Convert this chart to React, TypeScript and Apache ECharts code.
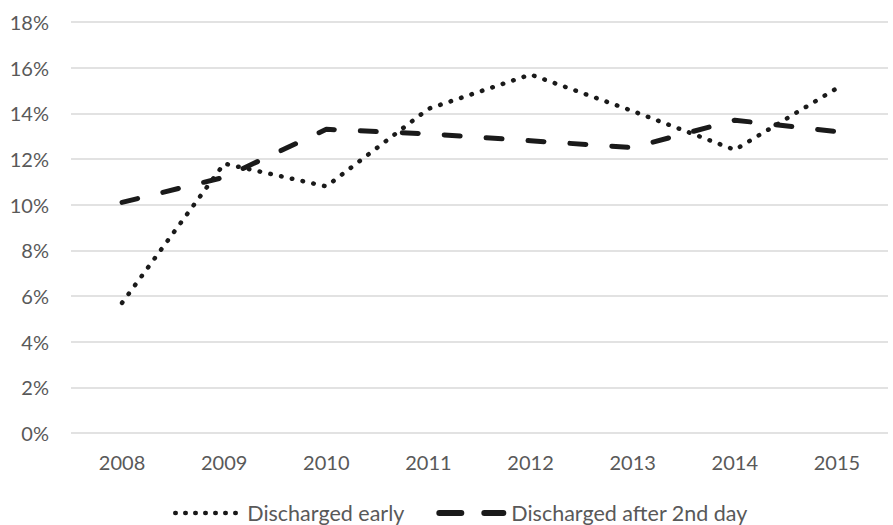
import React, { useEffect, useRef } from "react";
import * as echarts from "echarts";

const years = ["2008", "2009", "2010", "2011", "2012", "2013", "2014", "2015"];
const dischargedEarly = [5.7, 11.8, 10.8, 14.2, 15.7, 14.1, 12.4, 15.1];
const dischargedAfter2nd = [10.1, 11.2, 13.3, 13.1, 12.8, 12.5, 13.7, 13.2];
const seriesNames = ["Discharged early", "Discharged after 2nd day"];

const FONT = "Lato, 'Open Sans', sans-serif";
const TEXT = "#595959";
const INK = "#1a1a1a";

export default function App() {
  const ref = useRef<HTMLDivElement>(null);
  useEffect(() => {
    if (!ref.current) return;
    const chart = echarts.init(ref.current, undefined, { renderer: "svg" });
    chart.setOption({
      animation: false,
      grid: { left: 71, right: 5, top: 22, bottom: 92 },
      xAxis: {
        type: "category",
        data: years,
        boundaryGap: true,
        axisLine: { show: false },
        axisTick: { show: false },
        axisLabel: { color: TEXT, fontSize: 20, fontFamily: FONT, margin: 19 },
      },
      yAxis: {
        type: "value",
        min: 0,
        max: 18,
        interval: 2,
        axisLine: { show: false },
        axisTick: { show: false },
        axisLabel: { color: TEXT, fontSize: 20, fontFamily: FONT, margin: 22, formatter: "{value}%" },
        splitLine: { lineStyle: { color: "#d9d9d9", width: 1.5 } },
      },
      legend: {
        top: 497,
        left: 168,
        itemWidth: 64,
        itemHeight: 10,
        itemGap: 32,
        itemStyle: { opacity: 0 },
        textStyle: { color: TEXT, fontSize: 21.5, fontFamily: FONT, padding: [0, 0, 0, 3] },
        data: [
          { name: seriesNames[0], lineStyle: { width: 4.5, type: [0.5, 9.5], cap: "round", color: INK } },
          { name: seriesNames[1], lineStyle: { width: 6, type: [22, 23], cap: "round", color: INK } },
        ],
      },
      series: [
        {
          name: seriesNames[0],
          type: "line",
          data: dischargedEarly,
          symbol: "none",
          lineStyle: { color: INK, width: 4.5, type: [0.5, 10.5], cap: "round", join: "round" },
          itemStyle: { color: INK },
        },
        {
          name: seriesNames[1],
          type: "line",
          data: dischargedAfter2nd,
          symbol: "none",
          lineStyle: { color: INK, width: 5, type: [16, 26], cap: "round", join: "round" },
          itemStyle: { color: INK },
        },
      ],
    });
    return () => chart.dispose();
  }, []);
  return <div ref={ref} style={{ width: 893, height: 525, position: "absolute", left: 0, top: 0 }} />;
}
